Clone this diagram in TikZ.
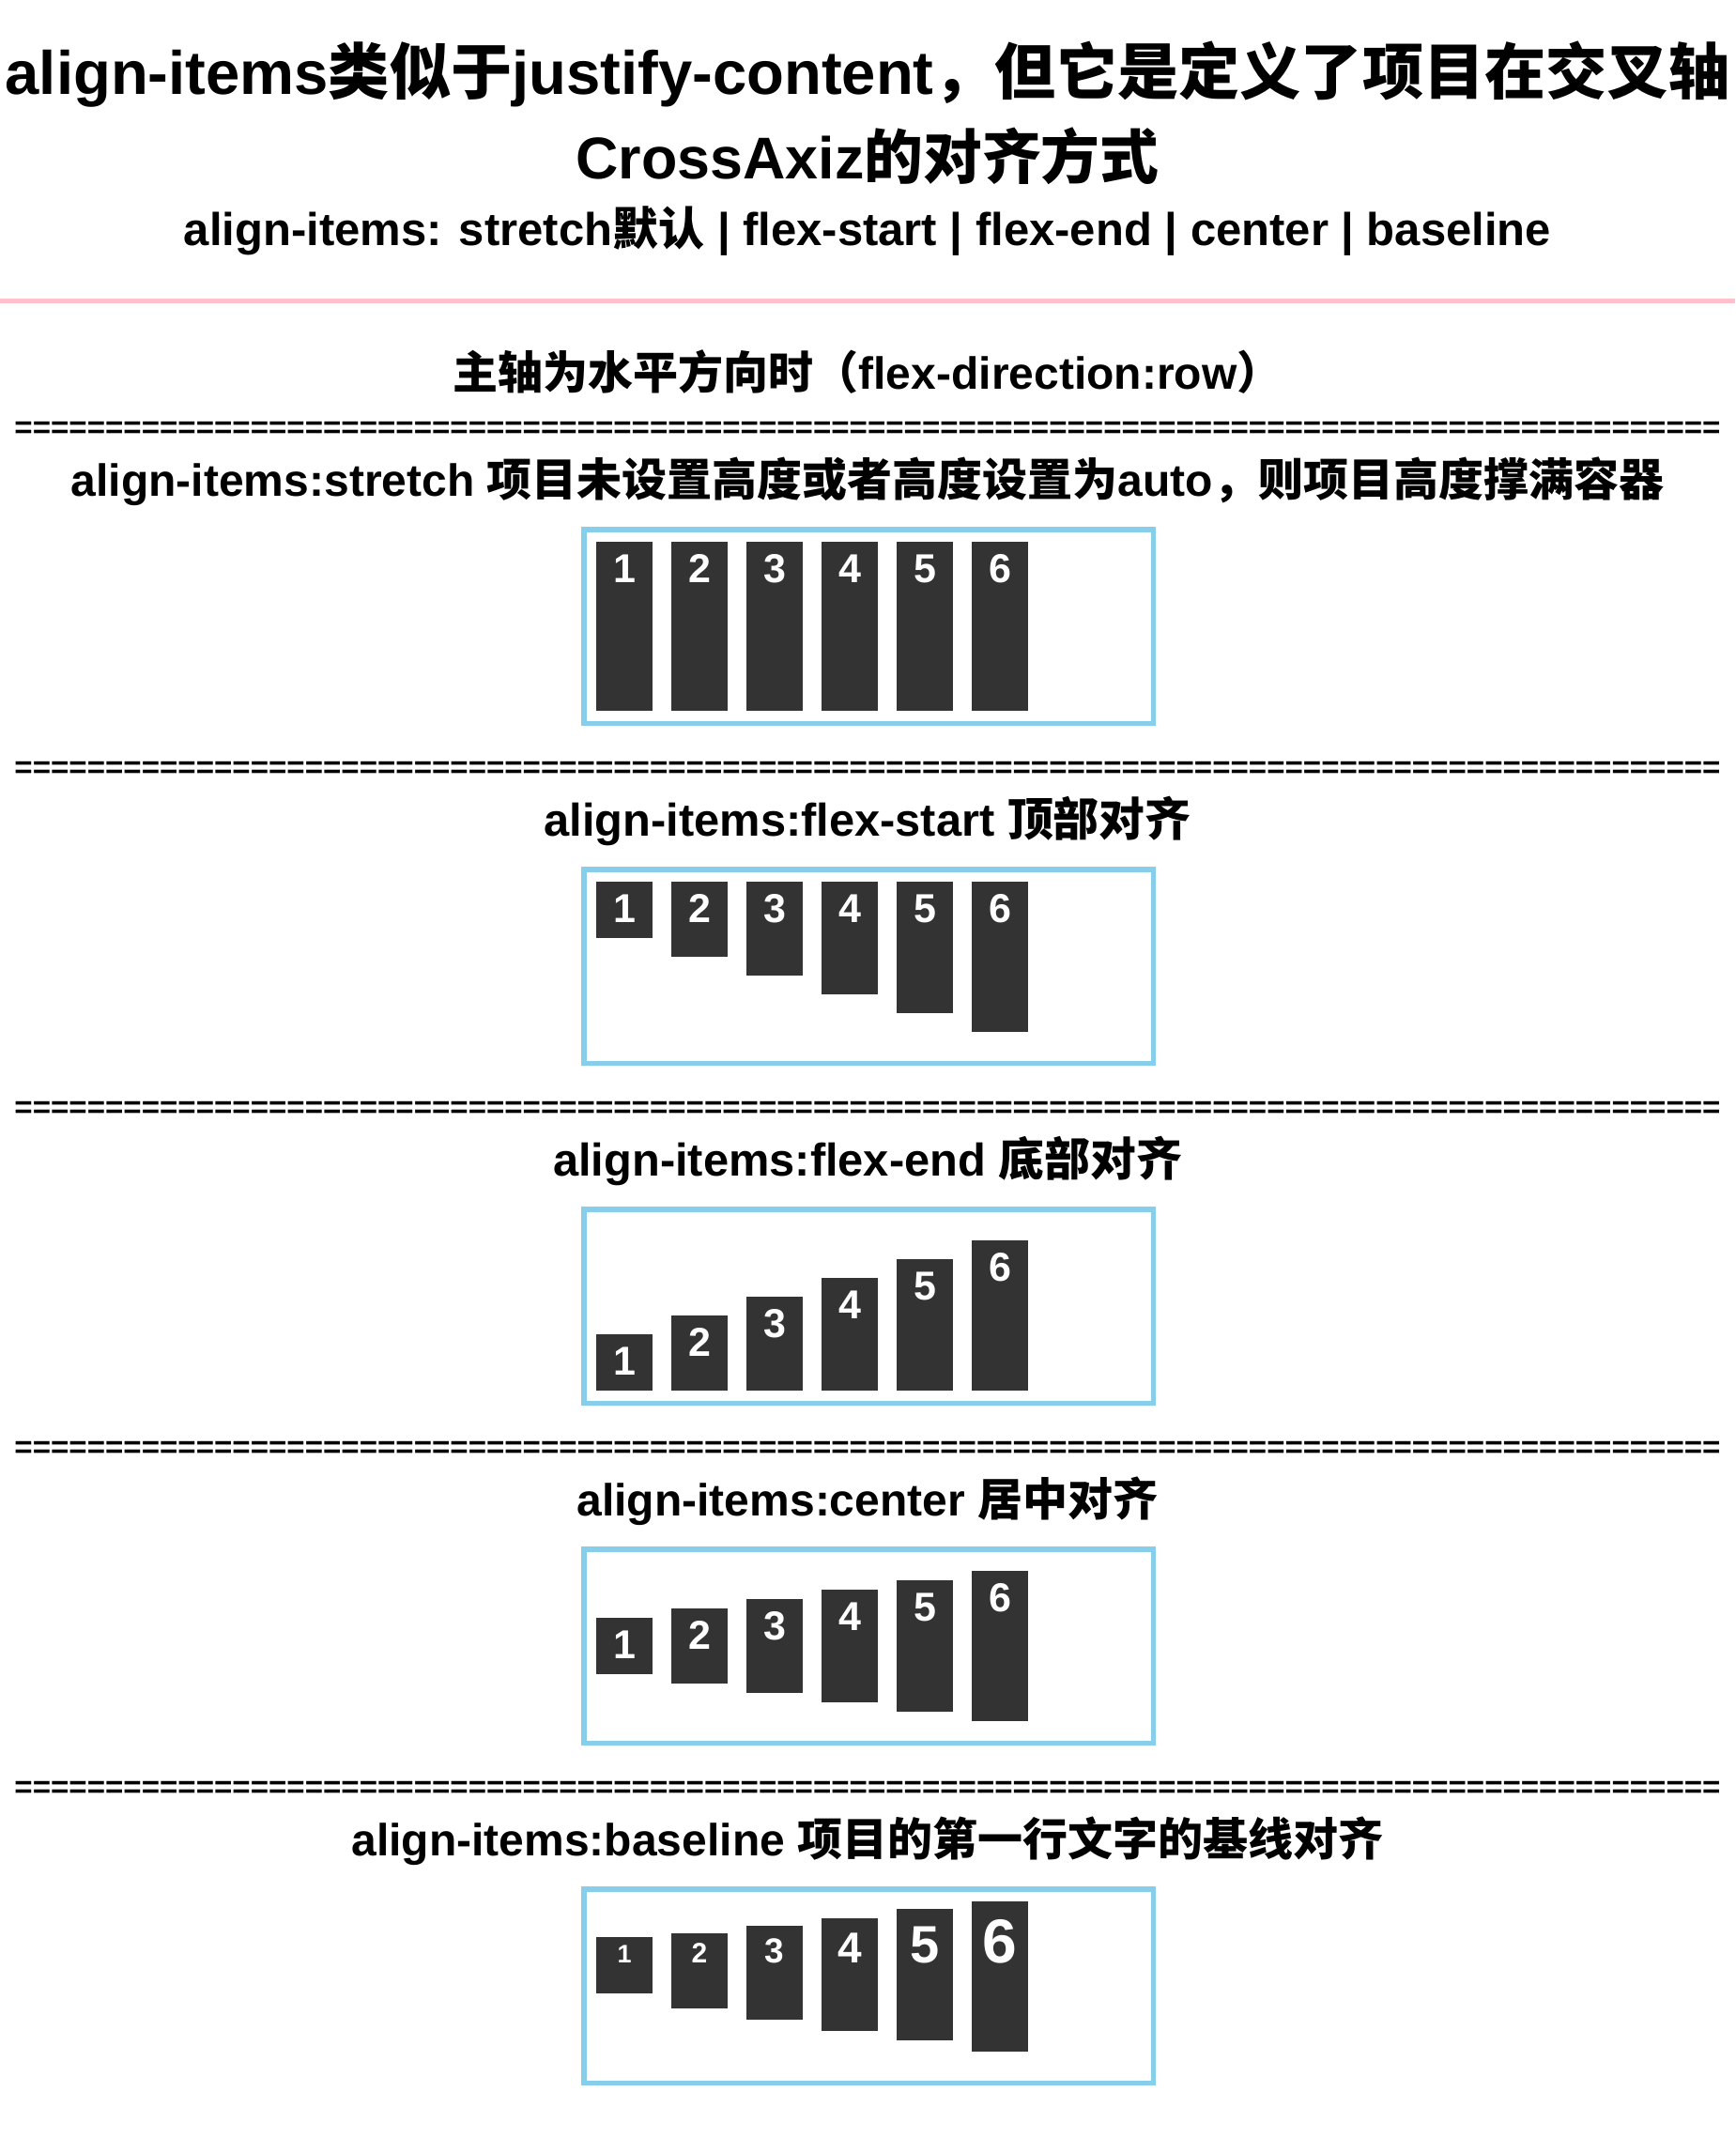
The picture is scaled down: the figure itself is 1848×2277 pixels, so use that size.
\documentclass[tikz,border=0pt]{standalone}
\usepackage{fontspec}
\setmainfont{Liberation Sans}
\newfontfamily\zhfont{Noto Sans CJK SC}
\newcommand{\zh}[1]{{\zhfont #1}}
\newcommand{\eqrule}{==========================================================================================}
\definecolor{boxblue}{HTML}{87CEEB}
\definecolor{itemgray}{HTML}{333333}
\definecolor{linepink}{HTML}{FFC0CB}

\begin{document}
\begin{tikzpicture}[x=1pt,y=1pt]
    \tikzstyle{every node}+=[inner sep=0pt]
    \tikzstyle{titletext}=[anchor=base, font=\bfseries\fontsize{65.2}{72}\selectfont]
    \tikzstyle{subtext}=[anchor=base, font=\bfseries\fontsize{49}{56}\selectfont]
    \tikzstyle{headtext}=[anchor=base, font=\bfseries\fontsize{48}{56}\selectfont]
    \tikzstyle{septext}=[anchor=base, font=\bfseries\fontsize{33.1}{38}\selectfont]
    \tikzstyle{flexbox}=[draw=boxblue, line width=5.5pt]
    \tikzstyle{item}=[fill=itemgray]
    \tikzstyle{digit}=[anchor=base, text=white, font=\bfseries\fontsize{43}{50}\selectfont]
    \fill [white] (0,0) rectangle (1848,-2277);
    \useasboundingbox (0,0) rectangle (1848,-2277);
    % heading block
    \draw (924,-101) node [titletext] (title) {align-items\zh{类似于}justify-content\zh{，但它是定义了项目在交叉轴}};
    \draw (924,-191) node [titletext, font=\bfseries\fontsize{62.8}{70}\selectfont] (title2) {CrossAxiz\zh{的对齐方式}};
    \draw (924,-261) node [subtext] (values) {align-items: stretch\zh{默认} | flex-start | flex-end | center | baseline};
    \draw [linepink, line width=5pt] (0,-320.5) -- (1848,-320.5);
    \draw (924,-414) node [headtext] (row) {\zh{主轴为水平方向时（}flex-direction:row\zh{）}};
    % stretch
    \draw (924,-466) node [septext] (sep1) {\eqrule====};
    \draw (924,-528) node [headtext] (h1) {align-items:stretch \zh{项目未设置高度或者高度设置为}auto\zh{，则项目高度撑满容器}};
    \draw [flexbox] (621.75,-563.75) rectangle (1228.25,-770.25);
    \fill [item] (635,-577) rectangle (695,-757);
    \fill [item] (715,-577) rectangle (775,-757);
    \fill [item] (795,-577) rectangle (855,-757);
    \fill [item] (875,-577) rectangle (935,-757);
    \fill [item] (955,-577) rectangle (1015,-757);
    \fill [item] (1035,-577) rectangle (1095,-757);
    \draw (665,-620) node [digit] (st1) {1};
    \draw (745,-620) node [digit] (st2) {2};
    \draw (825,-620) node [digit] (st3) {3};
    \draw (905,-620) node [digit] (st4) {4};
    \draw (985,-620) node [digit] (st5) {5};
    \draw (1065,-620) node [digit] (st6) {6};
    % flex-start
    \draw (924,-828) node [septext] (sep2) {\eqrule====};
    \draw (924,-890) node [headtext, font=\bfseries\fontsize{48.8}{56}\selectfont] (h2) {align-items:flex-start \zh{顶部对齐}};
    \draw [flexbox] (621.75,-925.75) rectangle (1228.25,-1132.25);
    \fill [item] (635,-939) rectangle (695,-999);
    \fill [item] (715,-939) rectangle (775,-1019);
    \fill [item] (795,-939) rectangle (855,-1039);
    \fill [item] (875,-939) rectangle (935,-1059);
    \fill [item] (955,-939) rectangle (1015,-1079);
    \fill [item] (1035,-939) rectangle (1095,-1099);
    \draw (665,-982) node [digit] (fs1) {1};
    \draw (745,-982) node [digit] (fs2) {2};
    \draw (825,-982) node [digit] (fs3) {3};
    \draw (905,-982) node [digit] (fs4) {4};
    \draw (985,-982) node [digit] (fs5) {5};
    \draw (1065,-982) node [digit] (fs6) {6};
    % flex-end
    \draw (924,-1190) node [septext] (sep3) {\eqrule====};
    \draw (924,-1252) node [headtext, font=\bfseries\fontsize{48.8}{56}\selectfont] (h3) {align-items:flex-end \zh{底部对齐}};
    \draw [flexbox] (621.75,-1287.75) rectangle (1228.25,-1494.25);
    \fill [item] (635,-1421) rectangle (695,-1481);
    \fill [item] (715,-1401) rectangle (775,-1481);
    \fill [item] (795,-1381) rectangle (855,-1481);
    \fill [item] (875,-1361) rectangle (935,-1481);
    \fill [item] (955,-1341) rectangle (1015,-1481);
    \fill [item] (1035,-1321) rectangle (1095,-1481);
    \draw (665,-1464) node [digit] (fe1) {1};
    \draw (745,-1444) node [digit] (fe2) {2};
    \draw (825,-1424) node [digit] (fe3) {3};
    \draw (905,-1404) node [digit] (fe4) {4};
    \draw (985,-1384) node [digit] (fe5) {5};
    \draw (1065,-1364) node [digit] (fe6) {6};
    % center
    \draw (924,-1552) node [septext] (sep4) {\eqrule====};
    \draw (924,-1614) node [headtext] (h4) {align-items:center \zh{居中对齐}};
    \draw [flexbox] (621.75,-1649.75) rectangle (1228.25,-1856.25);
    \fill [item] (635,-1723) rectangle (695,-1783);
    \fill [item] (715,-1713) rectangle (775,-1793);
    \fill [item] (795,-1703) rectangle (855,-1803);
    \fill [item] (875,-1693) rectangle (935,-1813);
    \fill [item] (955,-1683) rectangle (1015,-1823);
    \fill [item] (1035,-1673) rectangle (1095,-1833);
    \draw (665,-1766) node [digit] (ce1) {1};
    \draw (745,-1756) node [digit] (ce2) {2};
    \draw (825,-1746) node [digit] (ce3) {3};
    \draw (905,-1736) node [digit] (ce4) {4};
    \draw (985,-1726) node [digit] (ce5) {5};
    \draw (1065,-1716) node [digit] (ce6) {6};
    % baseline
    \draw (924,-1914) node [septext] (sep5) {\eqrule====};
    \draw (924,-1976) node [headtext] (h5) {align-items:baseline \zh{项目的第一行文字的基线对齐}};
    \draw [flexbox] (621.75,-2011.75) rectangle (1228.25,-2218.25);
    \fill [item] (635,-2063) rectangle (695,-2123);
    \fill [item] (715,-2059) rectangle (775,-2139);
    \fill [item] (795,-2051) rectangle (855,-2151);
    \fill [item] (875,-2043) rectangle (935,-2163);
    \fill [item] (955,-2033) rectangle (1015,-2173);
    \fill [item] (1035,-2025) rectangle (1095,-2185);
    \draw (665,-2090) node [digit, font=\bfseries\fontsize{27}{31}\selectfont] (bl1) {1};
    \draw (745,-2090) node [digit, font=\bfseries\fontsize{30}{34}\selectfont] (bl2) {2};
    \draw (825,-2090) node [digit, font=\bfseries\fontsize{37}{43}\selectfont] (bl3) {3};
    \draw (905,-2090) node [digit, font=\bfseries\fontsize{46}{54}\selectfont] (bl4) {4};
    \draw (985,-2090) node [digit, font=\bfseries\fontsize{56}{64}\selectfont] (bl5) {5};
    \draw (1065,-2090) node [digit, font=\bfseries\fontsize{66}{76}\selectfont] (bl6) {6};
\end{tikzpicture}
\end{document}
